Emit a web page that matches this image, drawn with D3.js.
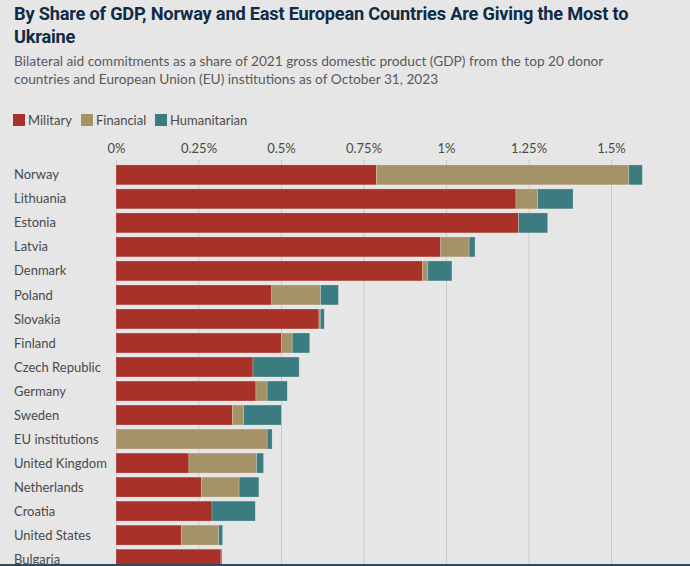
<!DOCTYPE html>
<html><head><meta charset="utf-8">
<script src="https://cdn.jsdelivr.net/npm/d3@7"></script>
<style>
html,body{margin:0;padding:0;background:#e6e6e6;overflow:hidden}
svg{display:block;font-family:Lato,"Noto Sans",sans-serif}
</style></head>
<body><svg id="chart" width="690" height="566"></svg>
<script>
const countries = ["Norway","Lithuania","Estonia","Latvia","Denmark","Poland","Slovakia","Finland","Czech Republic","Germany","Sweden","EU institutions","United Kingdom","Netherlands","Croatia","United States","Bulgaria"];
const military     = [0.789,1.212,1.220,0.984,0.929,0.472,0.615,0.501,0.415,0.424,0.353,0.000,0.221,0.259,0.291,0.198,0.318];
const financial    = [0.765,0.066,0.000,0.086,0.016,0.148,0.004,0.033,0.000,0.034,0.034,0.458,0.205,0.114,0.000,0.113,0.000];
const humanitarian = [0.041,0.107,0.088,0.018,0.073,0.054,0.012,0.053,0.140,0.061,0.114,0.015,0.021,0.060,0.131,0.012,0.003];
const tickValues = [0,0.25,0.5,0.75,1,1.25,1.5];
const tickLabels = ["0%","0.25%","0.5%","0.75%","1%","1.25%","1.5%"];
const seriesNames = ["Military","Financial","Humanitarian"];
const colors = ["#a83228","#a59267","#3a7c80"];

const svg = d3.select("#chart");
const W = 690, H = 566;
svg.append("rect").attr("width",W).attr("height",H).attr("fill","#e6e6e6");

// Title
const title = svg.append("text").attr("x",14).attr("fill","#0f2b46")
  .attr("font-size",18.2).attr("font-weight",700).attr("font-family","Roboto, Lato, sans-serif").attr("letter-spacing","-0.2");
title.append("tspan").attr("x",14).attr("y",20).text("By Share of GDP, Norway and East European Countries Are Giving the Most to");
title.append("tspan").attr("x",14).attr("y",43).text("Ukraine");

const sub = svg.append("text").attr("fill","#5a5a5a").attr("font-size",13.7);
sub.append("tspan").attr("x",14).attr("y",66).text("Bilateral aid commitments as a share of 2021 gross domestic product (GDP) from the top 20 donor");
sub.append("tspan").attr("x",14).attr("y",84).text("countries and European Union (EU) institutions as of October 31, 2023");

// Legend
const legendX = [13, 81, 155];
seriesNames.forEach((n,i)=>{
  const g = svg.append("g").attr("transform",`translate(${legendX[i]},114)`);
  g.append("rect").attr("width",12).attr("height",12).attr("fill",colors[i]);
  g.append("text").attr("x",15).attr("y",10.5).attr("font-size",13).attr("fill","#4a4a4a").text(n);
});

// Scales
const x = d3.scaleLinear().domain([0,1]).range([116,446]);
const y = d3.scaleBand().domain(countries).range([163,571]).paddingInner(0.17).paddingOuter(0.08);

// Gridlines & tick labels via axis
const axis = d3.axisTop(x).tickValues(tickValues).tickFormat((d,i)=>tickLabels[i]).tickSize(-(H-160)).tickPadding(6);
const ag = svg.append("g").attr("transform","translate(0,160)").call(axis);
ag.select(".domain").remove();
ag.selectAll(".tick line").attr("stroke","#c9c9c9").attr("stroke-width",1);
ag.selectAll(".tick text").attr("font-size",13).attr("fill","#4a4a4a").attr("font-family","Lato,'Noto Sans',sans-serif").attr("dy","-0.1em");

// Stacked bars
const data = countries.map((c,i)=>({country:c, Military:military[i], Financial:financial[i], Humanitarian:humanitarian[i]}));
const stack = d3.stack().keys(seriesNames)(data);
svg.append("g").selectAll("g").data(stack).join("g").attr("fill",(d,i)=>colors[i])
  .selectAll("rect").data(d=>d).join("rect")
  .attr("x",d=>x(d[0])).attr("width",d=>Math.max(0,x(d[1])-x(d[0])))
  .attr("y",d=>y(d.data.country)).attr("height",y.bandwidth())
  .attr("stroke",d=>(d[1]-d[0])>0?"rgba(255,255,255,0.35)":"none").attr("stroke-width",0.6);

// Category labels
svg.append("g").selectAll("text").data(countries).join("text")
  .attr("x",14).attr("y",d=>y(d)+y.bandwidth()/2).attr("dy","0.35em")
  .attr("font-size",13).attr("fill","#4a4a4a").text(d=>d);

// Bottom border
svg.append("rect").attr("x",0).attr("y",564).attr("width",W).attr("height",2).attr("fill","#34495a");
</script></body></html>
